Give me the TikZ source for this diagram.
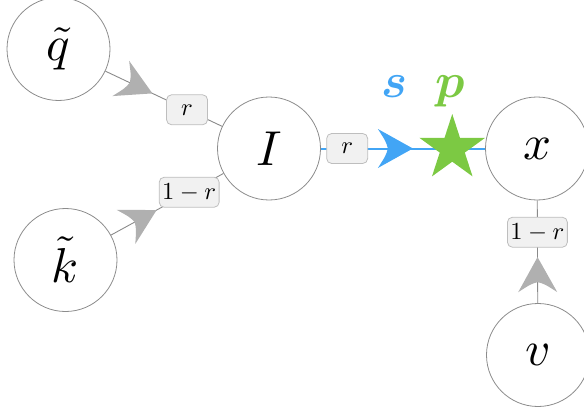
\documentclass[tikz,border=0pt]{standalone}
\usepackage{graphicx}
\usepackage{bm}
\usetikzlibrary{decorations.markings,shapes.geometric}
\definecolor{edgegray}{HTML}{8A8A8A}
\definecolor{circgray}{HTML}{8C8C8C}
\definecolor{headgray}{HTML}{B0B0B0}
\definecolor{boxfill}{HTML}{F1F1F1}
\definecolor{boxdraw}{HTML}{BEBEBE}
\definecolor{sblue}{HTML}{42A5F5}
\definecolor{pgreen}{HTML}{7CC943}
\newcommand{\vertmath}[1]{\scalebox{4.9}{$#1$}}
\newcommand{\boxmath}[1]{\scalebox{2.45}{$#1$}}
\tikzset{
  vert/.style={circle, draw=circgray, line width=0.8pt, minimum size=103pt, inner sep=0pt},
  lbox/.style={draw=boxdraw, fill=boxfill, rounded corners=5pt, line width=0.8pt,
    minimum height=30pt, minimum width=41pt, inner xsep=3pt, inner ysep=0pt},
  gedge/.style={draw=edgegray, line width=0.9pt},
  bedge/.style={draw=sblue, line width=2pt},
  arrowmark/.style 2 args={postaction={decorate}, decoration={markings,
    mark=at position #1 with {\fill[#2] (0pt,0pt) -- (-35pt,19.5pt)
      .. controls (-27pt,7pt) .. (-25pt,0pt) .. controls (-27pt,-7pt) .. (-35pt,-19.5pt) -- cycle;}}},
  starnode/.style={star, star points=5, star point ratio=2.618, minimum size=69pt,
    inner sep=0pt, fill=pgreen},
  biglabel/.style={anchor=base},
}
\begin{document}
\begin{tikzpicture}[x=1pt,y=-1pt]
\useasboundingbox (0,0) rectangle (584,412);
\node[vert] (q) at (58.5,49) {\vertmath{\tilde q}};
\node[vert] (k) at (65.5,260) {\vertmath{\tilde k}};
\node[vert] (I) at (269,148.5) {\vertmath{I}};
\node[vert] (x) at (537,148.5) {\vertmath{x}};
\node[vert] (v) at (538,355) {\vertmath{v}};
\draw[gedge, arrowmark={52pt}{headgray}] (q) -- (I) node[lbox, pos=0.7] (l1) {\boxmath{r}};
\draw[gedge, arrowmark={52pt}{headgray}] (k) -- (I) node[lbox, pos=0.695] (l2) {\boxmath{1-r}};
\draw[gedge, arrowmark={46pt}{headgray}] (v) -- (x) node[lbox, pos=0.69] (l4) {\boxmath{1-r}};
\draw[bedge, arrowmark={92pt}{sblue}] (I) -- (x)
  node[lbox, pos=0.16] (l3) {\boxmath{r}}
  node[starnode, pos=0.8] (st) {};
\node[biglabel, text=sblue] (s) at (395,98) {\vertmath{\bm{s}}};
\node[biglabel, text=pgreen] (p) at (450,98) {\vertmath{\bm{p}}};
\end{tikzpicture}
\end{document}
